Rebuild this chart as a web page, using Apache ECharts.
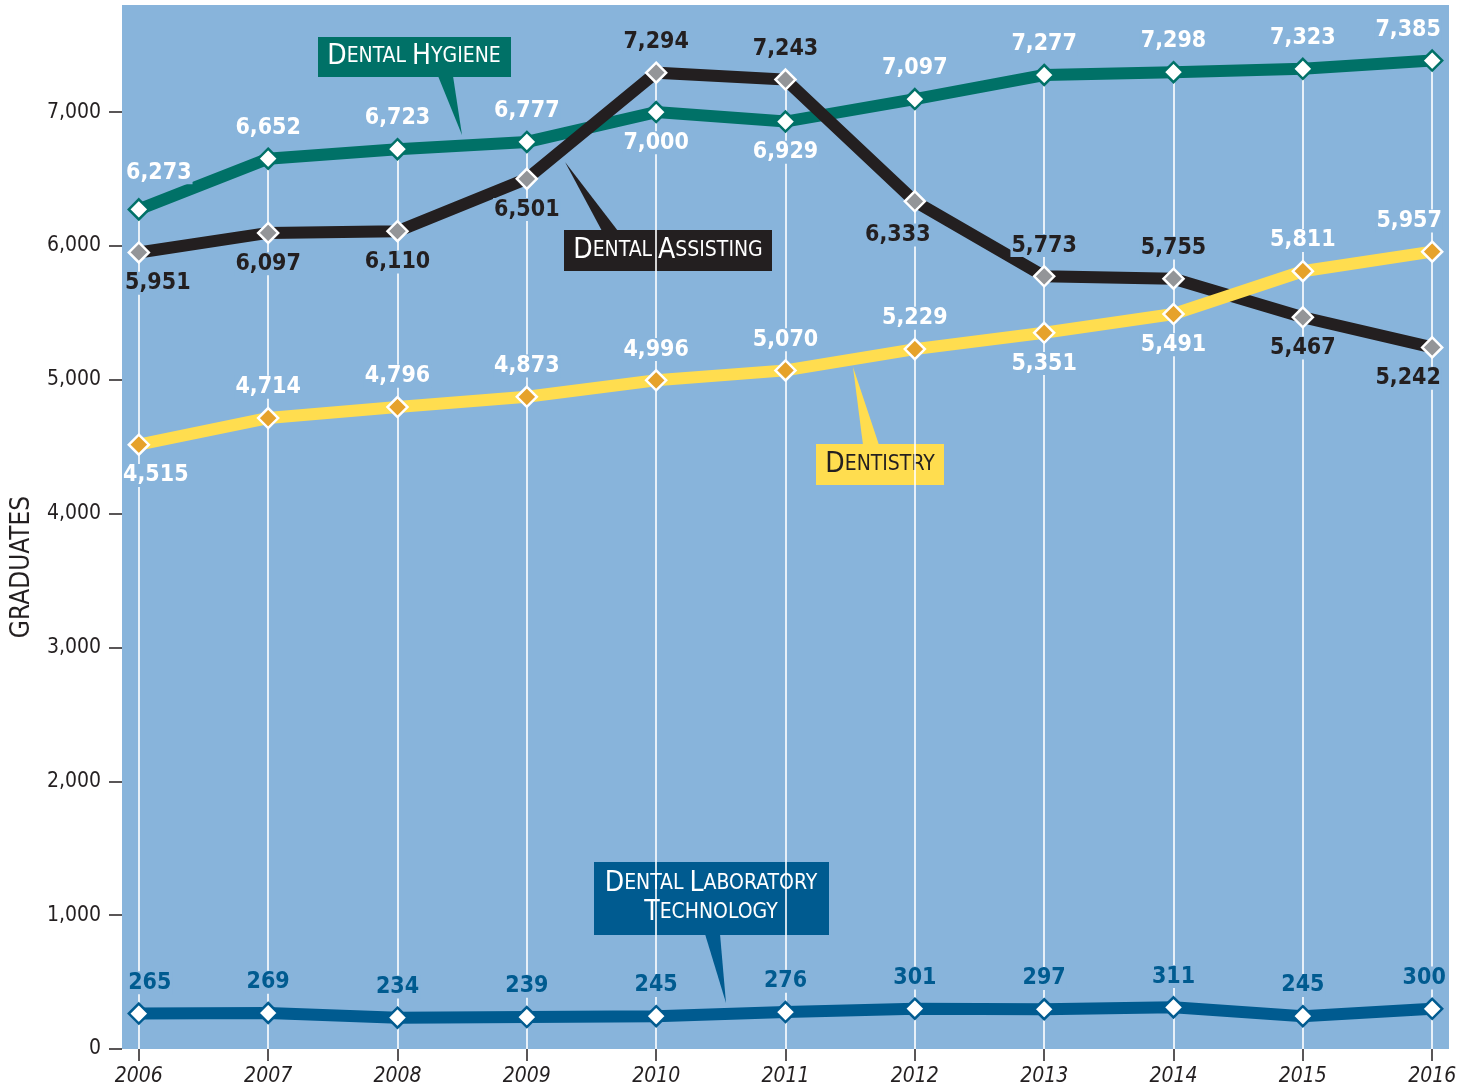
<!DOCTYPE html>
<html>
<head>
<meta charset="utf-8">
<script src="https://cdn.jsdelivr.net/npm/echarts@6/dist/echarts.min.js"></script>
<style>
html,body{margin:0;padding:0;background:#fff;}
#chart{width:1463px;height:1088px;}
</style>
</head>
<body>
<div id="chart"></div>
<script>
// ---- data ----
var years = [2006, 2007, 2008, 2009, 2010, 2011, 2012, 2013, 2014, 2015, 2016];
var dentalHygiene = [6273, 6652, 6723, 6777, 7000, 6929, 7097, 7277, 7298, 7323, 7385];
var dentalAssisting = [5951, 6097, 6110, 6501, 7294, 7243, 6333, 5773, 5755, 5467, 5242];
var dentistry = [4515, 4714, 4796, 4873, 4996, 5070, 5229, 5351, 5491, 5811, 5957];
var dentalLabTech = [265, 269, 234, 239, 245, 276, 301, 297, 311, 245, 300];
var yTicks = [0, 1000, 2000, 3000, 4000, 5000, 6000, 7000];

// ---- label placement (style, kept apart from the data) ----
var hygPos = ['top','top','top','top','bottom','bottom','top','top','top','top','top'];
var daPos = ['bottom','bottom','bottom','bottom','top','top','bottom','top','top','bottom','bottom'];
var denPos = ['bottom','top','top','top','top','top','top','bottom','bottom','top','top'];
var hygShift = [[20, -6], 0, 0, 0, 0, 0, 0, 0, 0, 0, -24];
var daShift = [19, 0, 0, 0, 0, 0, [-17, 3], 0, 0, 0, -24];
var denShift = [17, 0, 0, 0, 0, 0, 0, 0, 0, 0, -23];
var labShift = [11, 0, 0, 0, 0, 0, 0, 0, 0, 0, -8];

var BG = '#88B4DB';
var FONT = "'Liberation Sans Narrow','DejaVu Sans Condensed','Noto Sans',sans-serif";

function fmt(v){ return v.toLocaleString('en-US'); }

function makeSeries(name, values, positions, shifts, lineColor, markerFill, markerBorder, labelColor, z){
  return {
    name: name,
    type: 'line',
    z: z,
    data: values.map(function(v, i){
      var s = shifts[i];
      var off = Array.isArray(s) ? s : [s, 0];
      return {
        value: [years[i], v],
        label: { position: positions ? positions[i] : 'top', offset: off }
      };
    }),
    symbol: 'diamond',
    symbolSize: [20, 20],
    showAllSymbol: true,
    lineStyle: { color: lineColor, width: 12, join: 'miter' },
    itemStyle: { color: markerFill, borderColor: markerBorder, borderWidth: 2.5 },
    label: {
      show: true,
      distance: 8,
      color: labelColor,
      fontFamily: FONT,
      fontWeight: 'bold',
      fontSize: 23,
      backgroundColor: BG,
      padding: [0, 1, 0, 1],
      formatter: function(p){ return fmt(p.value[1]); }
    },
    emphasis: { disabled: true },
    animation: false
  };
}

// vertical drop lines from 0 to the highest value at each year
var dropLines = years.map(function(y, i){
  var top = Math.max(dentalHygiene[i], dentalAssisting[i], dentistry[i], dentalLabTech[i]);
  return [{ coord: [y, 0] }, { coord: [y, top] }];
});

function sc(str){
  // small caps as rich text
  return str.split(' ').map(function(w){
    return '{b|' + w.charAt(0).toUpperCase() + '}' + (w.length > 1 ? '{s|' + w.slice(1).toUpperCase() + '}' : '');
  }).join('{s| }');
}
function richStyles(color, big, small){
  return {
    b: { fontFamily: FONT, fontSize: big, fill: color, color: color },
    s: { fontFamily: FONT, fontSize: small, fill: color, color: color }
  };
}

function callout(box, tail, fill, textColor, lines, center){
  var children = [
    { type: 'polygon', shape: { points: tail }, style: { fill: fill } },
    { type: 'rect', shape: { x: box[0], y: box[1], width: box[2], height: box[3] }, style: { fill: fill } }
  ];
  lines.forEach(function(t, k){
    children.push({
      type: 'text',
      style: {
        text: sc(t),
        rich: richStyles(textColor, 28, 21),
        x: center[0],
        y: center[1] + k * 29 - (lines.length - 1) * 14.5,
        align: 'center',
        verticalAlign: 'middle',
        textAlign: 'center',
        textVerticalAlign: 'middle',
        fill: textColor
      }
    });
  });
  return { type: 'group', z: 100, children: children };
}

var chart = echarts.init(document.getElementById('chart'), null, { renderer: 'canvas' });

var option = {
  backgroundColor: '#ffffff',
  animation: false,
  grid: {
    left: 122, right: 14, top: 5, bottom: 39,
    outerBoundsMode: 'none',
    containLabel: false,
    show: true, backgroundColor: BG, borderWidth: 0
  },
  xAxis: {
    type: 'value',
    min: 2005.87,
    max: 2016.13,
    axisLine: { show: false },
    splitLine: { show: false },
    axisTick: { show: true, customValues: years, length: 12, lineStyle: { color: '#231F20', width: 1.5 } },
    axisLabel: {
      customValues: years,
      margin: 17,
      color: '#231F20',
      fontFamily: FONT,
      fontStyle: 'italic',
      fontSize: 21,
      formatter: function(v){ return String(v); }
    }
  },
  yAxis: {
    type: 'value',
    min: 0,
    max: 7800,
    axisLine: { show: false },
    splitLine: { show: false },
    axisTick: { show: true, customValues: yTicks, length: 13, lineStyle: { color: '#231F20', width: 1.5 } },
    axisLabel: {
      customValues: yTicks,
      margin: 21,
      color: '#231F20',
      fontFamily: FONT,
      fontSize: 21,
      formatter: function(v){ return fmt(v); }
    }
  },
  series: [
    {
      name: 'drop',
      type: 'line',
      z: 1,
      data: [],
      markLine: {
        z: 1,
        silent: true,
        symbol: 'none',
        label: { show: false },
        lineStyle: { color: '#ffffff', width: 1.6, type: 'solid' },
        data: dropLines,
        animation: false
      }
    },
    makeSeries('Dental Laboratory Technology', dentalLabTech, null, labShift, '#005B90', '#ffffff', '#005B90', '#005B90', 2),
    makeSeries('Dental Hygiene', dentalHygiene, hygPos, hygShift, '#007167', '#ffffff', '#007167', '#ffffff', 3),
    makeSeries('Dental Assisting', dentalAssisting, daPos, daShift, '#231F20', '#939598', '#ffffff', '#231F20', 4),
    makeSeries('Dentistry', dentistry, denPos, denShift, '#FFDD4F', '#E6A22B', '#ffffff', '#ffffff', 5)
  ],
  graphic: [
    {
      type: 'text', z: 100,
      x: 22, y: 567, rotation: Math.PI / 2,
      style: { text: 'GRADUATES', fill: '#231F20', font: "26px " + FONT, align: 'center', verticalAlign: 'middle', textAlign: 'center', textVerticalAlign: 'middle' }
    },
    callout([318, 37, 193, 40], [[438, 76], [453, 76], [462, 135]], '#007167', '#ffffff', ['Dental Hygiene'], [414, 57]),
    callout([564, 230, 208, 41], [[602, 231], [618, 231], [565, 162]], '#231F20', '#ffffff', ['Dental Assisting'], [668, 251]),
    callout([816, 444, 128, 41], [[863, 445], [879, 445], [853, 367]], '#FFDD4F', '#231F20', ['Dentistry'], [880, 465]),
    callout([594, 862, 235, 73], [[705, 934], [720, 934], [726, 1003]], '#005B90', '#ffffff', ['Dental Laboratory', 'Technology'], [711, 898])
  ]
};

chart.setOption(option);
</script>
</body>
</html>
